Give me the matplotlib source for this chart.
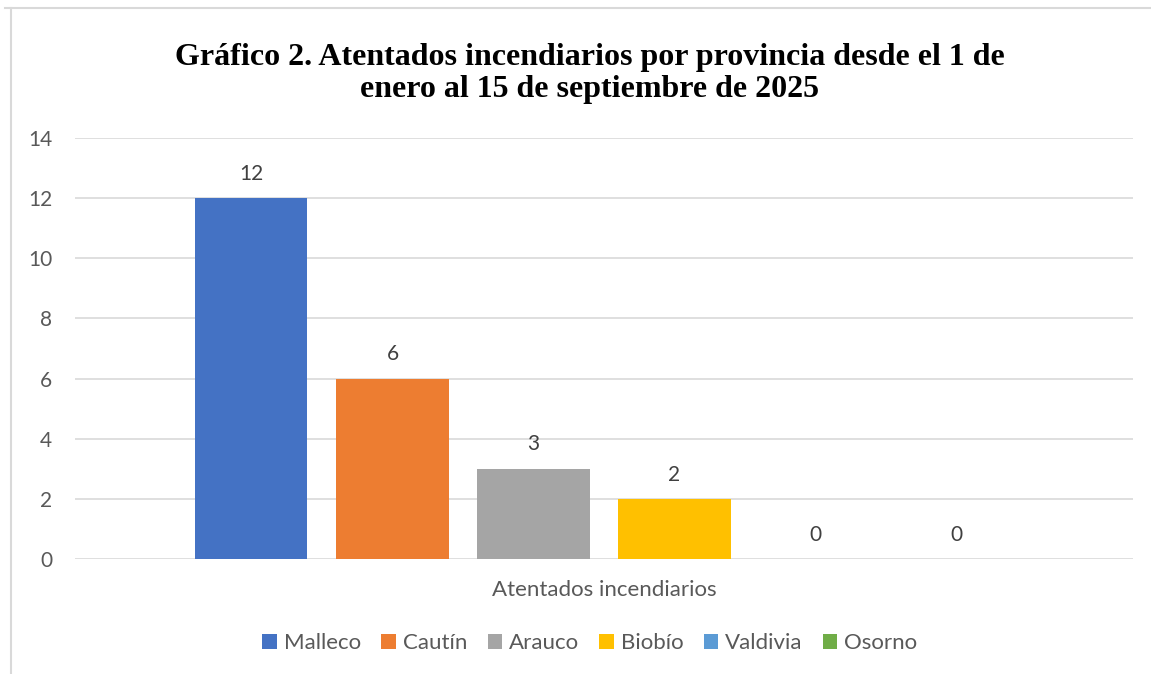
import matplotlib
matplotlib.use("Agg")
import matplotlib.pyplot as plt
from matplotlib.lines import Line2D
from matplotlib.patches import Patch

title = "Gráfico 2. Atentados incendiarios por provincia desde el 1 de\nenero al 15 de septiembre de 2025"
category = "Atentados incendiarios"
provinces = ["Malleco", "Cautín", "Arauco", "Biobío", "Valdivia", "Osorno"]
values = [12, 6, 3, 2, 0, 0]
colors = ["#4472C4", "#ED7D31", "#A5A5A5", "#FFC000", "#5B9BD5", "#70AD47"]
yticks = [0, 2, 4, 6, 8, 10, 12, 14]

W, H = 1151, 674
fig = plt.figure(figsize=(W / 100, H / 100), dpi=100)
fig.patch.set_facecolor("white")
ax = fig.add_axes([75 / W, 1 - 559 / H, (1133 - 75) / W, (559 - 138) / H])

sans = ["Lato", "DejaVu Sans"]
txt_color = "#595959"
step = 0.1333
width = 0.106
n = len(provinces)
for i, (p, v, c) in enumerate(zip(provinces, values, colors)):
    x = (i - (n - 1) / 2) * step
    ax.bar(x, v, width=width, color=c, zorder=3)
    ax.annotate(str(v), (x, v), xytext=(0, 17.5), textcoords="offset points",
                ha="center", va="center", fontsize=15, color="#404040", family=sans)

ax.set_xlim(-0.5, 0.5)
ax.set_ylim(0, 14)
ax.set_yticks(yticks)
ax.set_yticklabels([str(t) for t in yticks], fontsize=15, color=txt_color, family=sans)
ax.set_xticks([0])
ax.set_xticklabels([category], fontsize=16, color=txt_color, family=sans)
ax.tick_params(axis="both", length=0)
ax.tick_params(axis="y", pad=16.5)
ax.tick_params(axis="x", pad=15)
ax.yaxis.grid(True, color="#d9d9d9", linewidth=1.2, zorder=0)
for s in ax.spines.values():
    s.set_visible(False)

fig.text(590 / W, 1 - 97 / H, title, ha="center", va="baseline", fontsize=23,
         fontweight="bold", family=["Liberation Serif", "DejaVu Serif"], linespacing=1.12)

handles = [Patch(facecolor=c, edgecolor="none") for c in colors]
leg = fig.legend(handles, provinces, loc="center", bbox_to_anchor=(590 / W, 1 - 643 / H),
                 ncol=6, frameon=False, handlelength=0.64, handleheight=0.64,
                 handletextpad=0.32, columnspacing=0.92,
                 prop={"family": sans, "size": 16})
for t in leg.get_texts():
    t.set_color(txt_color)

fig.add_artist(Line2D([5 / W, 1], [1 - 8 / H, 1 - 8 / H], color="#d9d9d9", linewidth=1.5))
fig.add_artist(Line2D([10.5 / W, 10.5 / W], [0, 1 - 8 / H], color="#d9d9d9", linewidth=1.5))

fig.savefig("out.png", dpi=100, facecolor="white")
